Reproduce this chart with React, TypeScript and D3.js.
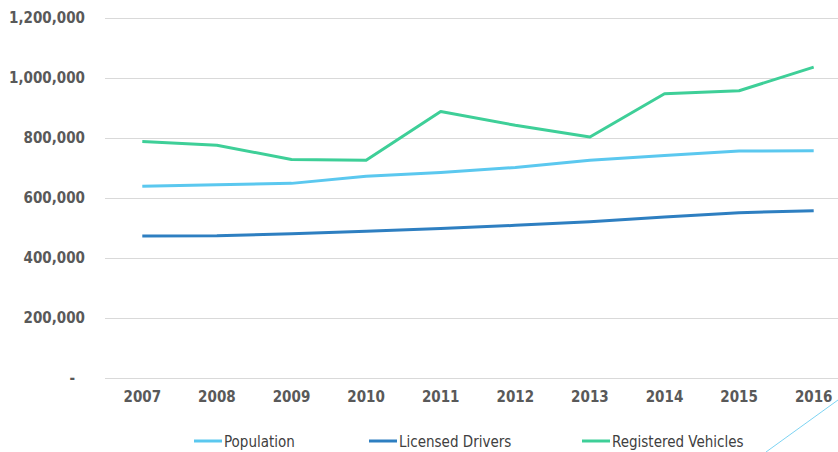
import React from 'react'
import * as d3 from 'd3'

const years = ['2007', '2008', '2009', '2010', '2011', '2012', '2013', '2014', '2015', '2016']
const population = [638000, 643000, 648000, 672000, 684000, 701000, 725000, 741000, 756000, 757000]
const licensedDrivers = [472000, 473000, 480000, 488000, 497000, 508000, 520000, 536000, 550000, 557000]
const registeredVehicles = [788000, 775000, 728000, 725000, 888000, 842000, 803000, 947000, 957000, 1036000]
const yTicks = [0, 200000, 400000, 600000, 800000, 1000000, 1200000]

const seriesNames = ['Population', 'Licensed Drivers', 'Registered Vehicles']
const seriesColors = ['#5bc8ef', '#2e7fc1', '#3ecf98']

const W = 838
const H = 452
const margin = { top: 18, left: 105, bottom: 75 }
const font = '"DejaVu Sans Condensed", "DejaVu Sans", Verdana, sans-serif'

export default function App() {
  const x = d3.scalePoint<string>().domain(years).range([margin.left, margin.left + 746]).padding(0.5)
  const y = d3.scaleLinear().domain([0, 1200000]).range([H - margin.bottom + 0.5, margin.top])
  const line = d3.line<number>()
    .x((d, i) => x(years[i]) as number)
    .y(d => y(d))

  const data = [population, licensedDrivers, registeredVehicles]
  const fmt = d3.format(',')
  // legend swatch starts
  const legendX = [194, 369, 582]

  return (
    <svg width={W} height={H} style={{ position: 'absolute', left: 0, top: 0, background: '#fff' }}>
      {yTicks.map(t => (
        <g key={t}>
          <line x1={margin.left} x2={W} y1={Math.round(y(t)) + 0.5} y2={Math.round(y(t)) + 0.5} stroke="#d9d9d9" strokeWidth={1} />
          <text x={t === 0 ? 75 : 85} y={y(t)} dy="0.35em" textAnchor="end" fontFamily={font} fontWeight="bold" fontSize={15} fill="#595959">
            {t === 0 ? '-' : fmt(t)}
          </text>
        </g>
      ))}
      {years.map(yr => (
        <text key={yr} x={x(yr)} y={402} textAnchor="middle" fontFamily={font} fontWeight="bold" fontSize={15} fill="#595959">{yr}</text>
      ))}
      {data.map((s, i) => (
        <path key={i} d={line(s) || ''} fill="none" stroke={seriesColors[i]} strokeWidth={3} strokeLinejoin="round" />
      ))}
      {seriesNames.map((n, i) => (
        <g key={n}>
          <line x1={legendX[i]} x2={legendX[i] + 28} y1={441} y2={441} stroke={seriesColors[i]} strokeWidth={3} />
          <text x={legendX[i] + 30} y={446.5} fontFamily={font} fontSize={15} fill="#404040">{n}</text>
        </g>
      ))}
      <line x1={766} y1={452} x2={838} y2={400} stroke="#5bc8ef" strokeWidth={0.8} />
    </svg>
  )
}
